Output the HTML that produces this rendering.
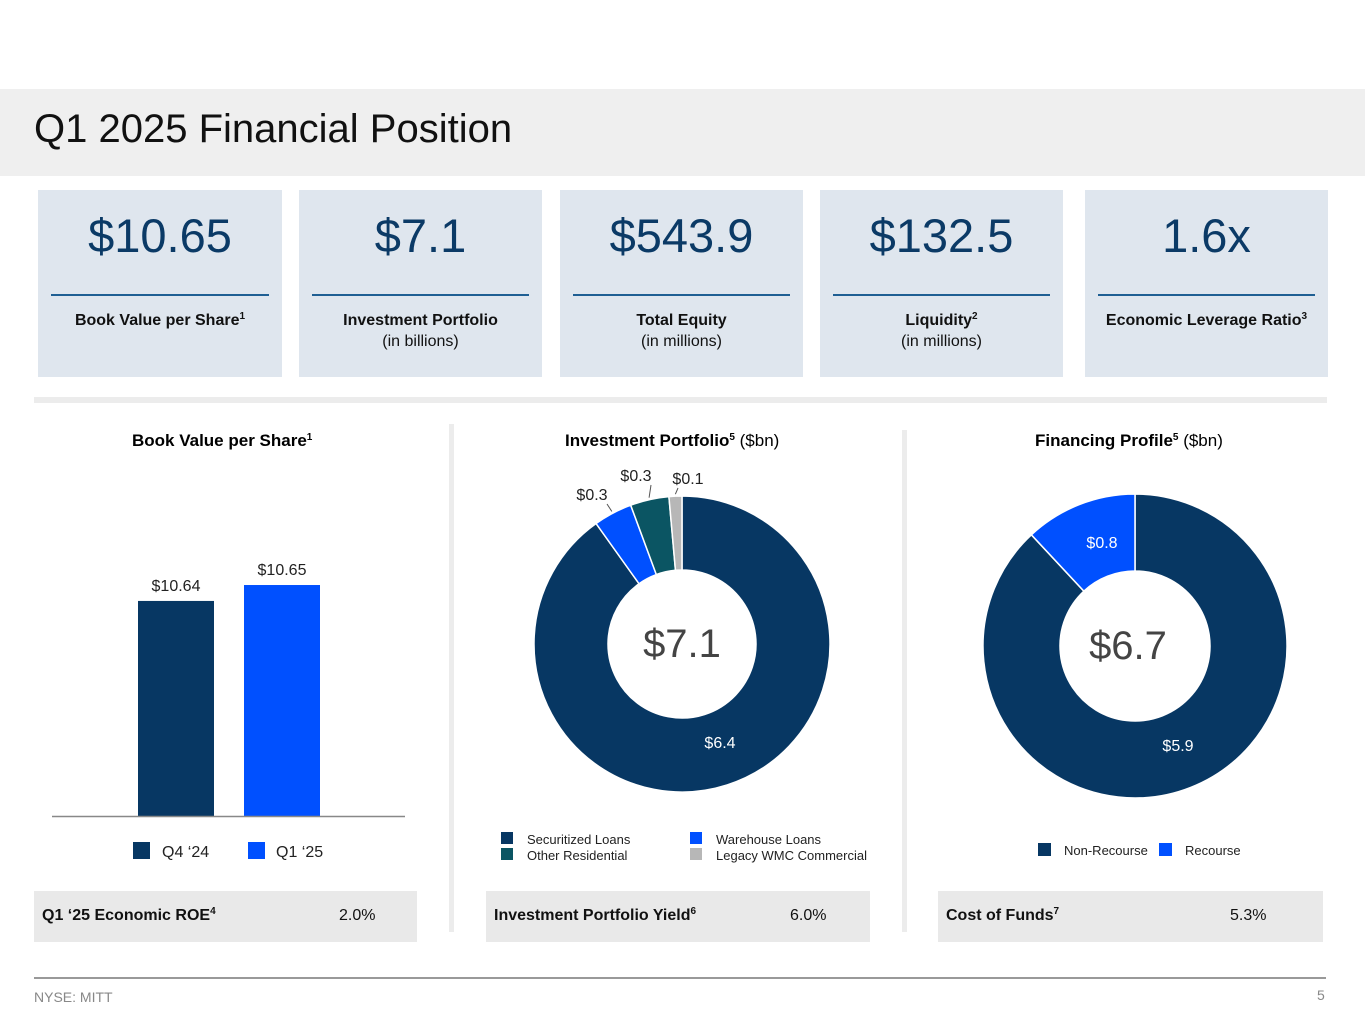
<!DOCTYPE html>
<html><head><meta charset="utf-8">
<style>
body{margin:0;width:1365px;height:1024px;background:#fff;overflow:hidden;font-family:"Liberation Sans",sans-serif;}
.abs{position:absolute;}
.kpi{position:absolute;top:190px;height:187px;background:#dfe6ee;text-align:center;}
.kpi .v{position:absolute;left:0;right:0;top:18px;font-size:47px;color:#0b3a66;}
.kpi .ln{position:absolute;left:13px;right:13px;top:104px;height:2px;background:#1f5f93;}
.kpi .l{position:absolute;left:0;right:0;top:120px;font-size:16px;font-weight:bold;color:#111;line-height:21px;}
.kpi .l span{font-weight:normal;}
sup{font-size:10px;line-height:0;vertical-align:6px;}
.stat{position:absolute;top:891px;height:51px;background:#e9e9e9;font-size:16px;color:#111;}
.stat b{position:absolute;left:8px;top:16px;}
.stat i{position:absolute;top:16px;font-style:normal;}
svg text{font-family:"Liberation Sans",sans-serif;}
</style></head><body>
<div class="abs" style="left:0;top:89px;width:1365px;height:87px;background:#efefef;"></div>
<div class="abs" style="left:34px;top:107px;font-size:40px;color:#111;">Q1 2025 Financial Position</div>

<div class="kpi" style="left:38px;width:244px;"><div class="v">$10.65</div><div class="ln"></div><div class="l">Book Value per Share<sup>1</sup></div></div>
<div class="kpi" style="left:299px;width:243px;"><div class="v">$7.1</div><div class="ln"></div><div class="l">Investment Portfolio<br><span>(in billions)</span></div></div>
<div class="kpi" style="left:560px;width:243px;"><div class="v">$543.9</div><div class="ln"></div><div class="l">Total Equity<br><span>(in millions)</span></div></div>
<div class="kpi" style="left:820px;width:243px;"><div class="v">$132.5</div><div class="ln"></div><div class="l">Liquidity<sup>2</sup><br><span>(in millions)</span></div></div>
<div class="kpi" style="left:1085px;width:243px;"><div class="v">1.6x</div><div class="ln"></div><div class="l">Economic Leverage Ratio<sup>3</sup></div></div>

<div class="abs" style="left:34px;top:397px;width:1293px;height:6px;background:#ececec;"></div>
<div class="abs" style="left:449px;top:424px;width:5px;height:508px;background:#ececec;"></div>
<div class="abs" style="left:902px;top:430px;width:5px;height:502px;background:#ececec;"></div>

<div class="abs" style="left:132px;top:431px;font-size:17px;font-weight:bold;">Book Value per Share<sup>1</sup></div>
<div class="abs" style="left:565px;top:431px;font-size:17px;"><b>Investment Portfolio<sup>5</sup></b> ($bn)</div>
<div class="abs" style="left:1035px;top:431px;font-size:17px;"><b>Financing Profile<sup>5</sup></b> ($bn)</div>

<svg class="abs" style="left:0;top:0" width="1365" height="1024" id="charts"></svg>

<div class="stat" style="left:34px;width:383px;"><b>Q1 ‘25 Economic ROE<sup>4</sup></b><i style="left:305px;">2.0%</i></div>
<div class="stat" style="left:486px;width:384px;"><b>Investment Portfolio Yield<sup>6</sup></b><i style="left:304px;">6.0%</i></div>
<div class="stat" style="left:938px;width:385px;"><b>Cost of Funds<sup>7</sup></b><i style="left:292px;">5.3%</i></div>

<div class="abs" style="left:34px;top:977px;width:1292px;height:2px;background:#999;"></div>
<div class="abs" style="left:34px;top:989px;font-size:14px;color:#888;">NYSE: MITT</div>
<div class="abs" style="left:1317px;top:987px;font-size:14px;color:#888;">5</div>

<script>
const barCategories=["Q4 ‘24","Q1 ‘25"];
const barValues=[10.64,10.65];
const barLabels=["$10.64","$10.65"];
const barColors=["#073763","#0050ff"];
const invCategories=["Securitized Loans","Warehouse Loans","Other Residential","Legacy WMC Commercial"];
const invValues=[6.4,0.3,0.3,0.1];
const invLabels=["$6.4","$0.3","$0.3","$0.1"];
const invColors=["#073763","#0050ff","#0b5563","#b7b7b7"];
const finCategories=["Non-Recourse","Recourse"];
const finValues=[5.9,0.8];
const finLabels=["$5.9","$0.8"];
const finColors=["#073763","#0050ff"];

const NS="http://www.w3.org/2000/svg";
const svg=document.getElementById('charts');
function mk(tag,attrs,txt){const e=document.createElementNS(NS,tag);for(const k in attrs)e.setAttribute(k,attrs[k]);if(txt!=null)e.textContent=txt;svg.appendChild(e);return e;}

// Bar chart
const yMin=10.505, base=816, pxPerUnit=1593;
function yScale(v){return base-(v-yMin)*pxPerUnit;}
function xBand(i){return 138+i*106;}
const bw=76;
barValues.forEach((v,i)=>{
  const r=mk('rect',{x:xBand(i),y:yScale(v),width:bw,height:base-yScale(v),fill:barColors[i]});
  
  
  const t=mk('text',{x:xBand(i)+bw/2,y:yScale(v)-10,'text-anchor':'middle','font-size':16,fill:'#222'},barLabels[i]);
  
  
  const s=mk('rect',{x:133+i*115,y:842,width:17,height:17,fill:barColors[i]});
  
  
  const lt=mk('text',{x:162+i*114,y:857,'font-size':16,fill:'#222'},barCategories[i]);
  
  
});
const ax=mk('line',{x1:52,x2:405,y1:816.5,y2:816.5,stroke:'#888','stroke-width':1.5});



function arc(cx,cy,r0,r1,a0,a1){
  const p=(r,a)=>[cx+r*Math.sin(a),cy-r*Math.cos(a)];
  const lg=(a1-a0)>Math.PI?1:0;
  const [x0,y0]=p(r1,a0),[x1,y1]=p(r1,a1),[x2,y2]=p(r0,a1),[x3,y3]=p(r0,a0);
  return `M${x0},${y0}A${r1},${r1} 0 ${lg} 1 ${x1},${y1}L${x2},${y2}A${r0},${r0} 0 ${lg} 0 ${x3},${y3}Z`;
}
function donut(cx,cy,r0,r1,vals,cols,name){
  const tot=vals.reduce((a,b)=>a+b,0);let a=0;const mids=[];
  vals.forEach((v,i)=>{const a1=a+v/tot*2*Math.PI;
    const p=mk('path',{d:arc(cx,cy,r0,r1,a,a1),fill:cols[i],stroke:'#fff','stroke-width':1.5});
    
    
    mids.push((a+a1)/2);a=a1;});
  return {mids,tot};
}
// Investment donut
const d1=donut(682,644,74,148,invValues,invColors,'portfolio');
let t=mk('text',{x:682,y:657,'text-anchor':'middle','font-size':40,fill:'#444'},'$'+d1.tot.toFixed(1));


t=mk('text',{x:720,y:748,'text-anchor':'middle','font-size':16,fill:'#fff'},invLabels[0]);


const outPos=[null,[592,500],[636,481],[688,484]];
for(let i=1;i<4;i++){
  const m=d1.mids[i];
  const ex=682+150*Math.sin(m), ey=644-150*Math.cos(m);
  const l=mk('line',{x1:ex,y1:ey,x2:outPos[i][0]+(i==3?-10:15),y2:outPos[i][1]+4,stroke:'#555','stroke-width':1});
  
  
  t=mk('text',{x:outPos[i][0],y:outPos[i][1],'text-anchor':'middle','font-size':16,fill:'#222'},invLabels[i]);
  
  
}
const legPos=[[501,832],[690,832],[501,848],[690,848]];
const legText=[[527,844],[716,844],[527,860],[716,860]];
invCategories.forEach((c,i)=>{
  const s=mk('rect',{x:legPos[i][0],y:legPos[i][1],width:12,height:12,fill:invColors[i]});
  
  
  const lt=mk('text',{x:legText[i][0],y:legText[i][1],'font-size':13,fill:'#222'},c);
  
  
});
// Financing donut
const d2=donut(1135,646,75,152,finValues,finColors,'financing');
t=mk('text',{x:1128,y:659,'text-anchor':'middle','font-size':40,fill:'#444'},'$'+d2.tot.toFixed(1));


t=mk('text',{x:1178,y:751,'text-anchor':'middle','font-size':16,fill:'#fff'},finLabels[0]);


t=mk('text',{x:1102,y:548,'text-anchor':'middle','font-size':16,fill:'#fff'},finLabels[1]);


finCategories.forEach((c,i)=>{
  const s=mk('rect',{x:1038+i*121,y:843,width:13,height:13,fill:finColors[i]});
  
  
  const lt=mk('text',{x:1064+i*121,y:855,'font-size':13,fill:'#222'},c);
  
  
});
</script>
</body></html>
